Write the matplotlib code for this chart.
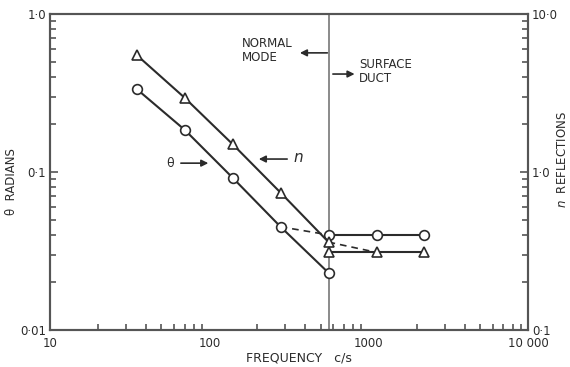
import numpy as np
import matplotlib
matplotlib.use("Agg")
import matplotlib.pyplot as plt
from matplotlib.ticker import FixedLocator, FixedFormatter, LogLocator, NullFormatter

# normal mode (below ~560 c/s)
freq_normal = [35, 70, 140, 280, 560]
theta_normal = [0.335, 0.185, 0.092, 0.045, 0.023]
n_normal = [5.5, 2.95, 1.5, 0.74, 0.36]

# surface duct (above ~560 c/s)
freq_duct = [560, 1120, 2240]
theta_duct = [0.040, 0.040, 0.040]
n_duct = [0.31, 0.31, 0.31]

boundary_freq = 560

ink = "#2b2b2b"
axis_col = "#555555"
plt.rcParams["font.family"] = ["DejaVu Sans"]
plt.rcParams["font.size"] = 8.5

fig = plt.figure(figsize=(5.70, 3.67), dpi=100)
ax = fig.add_axes([50 / 570, 1 - 330 / 367, 478 / 570, 316 / 367])
ax2 = ax.twinx()

ax.set_xscale("log")
ax.set_yscale("log")
ax2.set_yscale("log")
ax.set_xlim(10, 10000)
ax.set_ylim(0.01, 1.0)
ax2.set_ylim(0.1, 10.0)

# theta, circles
ax.plot(freq_normal, theta_normal, color=ink, lw=1.5, marker="o", ms=7,
        mfc="white", mec=ink, mew=1.2, zorder=3)
ax.plot(freq_duct, theta_duct, color=ink, lw=1.5, marker="o", ms=7,
        mfc="white", mec=ink, mew=1.2, zorder=3)
ax.plot([freq_normal[3], freq_duct[0]], [theta_normal[3], theta_duct[0]],
        color=ink, lw=1.2, ls=(0, (4, 3)), zorder=2)

# n, triangles (right axis)
ax2.plot(freq_normal, n_normal, color=ink, lw=1.5, marker="^", ms=7.5,
         mfc="white", mec=ink, mew=1.2, zorder=3)
ax2.plot(freq_duct, n_duct, color=ink, lw=1.5, marker="^", ms=7.5,
         mfc="white", mec=ink, mew=1.2, zorder=3)
ax2.plot([freq_normal[4], freq_duct[1]], [n_normal[4], n_duct[1]],
         color=ink, lw=1.2, ls=(0, (4, 3)), zorder=2)

ax.axvline(boundary_freq, color="#777777", lw=1.2, zorder=1)

ax.xaxis.set_major_locator(FixedLocator([10, 100, 1000, 10000]))
ax.xaxis.set_major_formatter(FixedFormatter(["10", "100", "1000", "10 000"]))
ax.xaxis.set_minor_locator(LogLocator(base=10, subs=np.arange(2, 10)))
ax.xaxis.set_minor_formatter(NullFormatter())

ax.yaxis.set_major_locator(FixedLocator([0.01, 0.1, 1.0]))
ax.yaxis.set_major_formatter(FixedFormatter(["0·01", "0·1", "1·0"]))
ax.yaxis.set_minor_locator(LogLocator(base=10, subs=np.arange(2, 10)))
ax.yaxis.set_minor_formatter(NullFormatter())

ax2.yaxis.set_major_locator(FixedLocator([0.1, 1.0, 10.0]))
ax2.yaxis.set_major_formatter(FixedFormatter(["0·1", "1·0", "10·0"]))
ax2.yaxis.set_minor_locator(LogLocator(base=10, subs=np.arange(2, 10)))
ax2.yaxis.set_minor_formatter(NullFormatter())

# spines / ticks (y axes in the loop, x axis only on ax)
for a in (ax, ax2):
    for s in a.spines.values():
        s.set_color(axis_col)
        s.set_linewidth(1.5)
    a.tick_params(axis="y", which="both", direction="in", color=axis_col,
                  width=1.2, labelcolor=ink, pad=3)
    a.tick_params(axis="y", which="major", length=6)
    a.tick_params(axis="y", which="minor", length=4)

ax.tick_params(axis="x", which="both", direction="in", color=axis_col,
               width=1.2, labelcolor=ink, bottom=True, top=False)
ax.tick_params(axis="x", which="minor", length=4)
ax.tick_params(axis="x", which="major", length=0, pad=5)
ax2.xaxis.set_visible(False)

# axis titles
ax.text(0.52, -0.088, "FREQUENCY   c/s", transform=ax.transAxes,
        ha="center", va="center", fontsize=9, color=ink)
ax.set_ylabel("θ  RADIANS", fontsize=8.5, color=ink)
ax.yaxis.set_label_coords(-0.066, 0.47)
ax2.set_ylabel("$n$  REFLECTIONS", fontsize=8.5, color=ink, rotation=90)
ax2.yaxis.set_label_coords(1.059, 0.538)

# annotations
arrow = dict(arrowstyle="-|>", color=ink, lw=1.2, mutation_scale=10)
ax.annotate("", xy=(0.517, 0.877), xytext=(0.586, 0.877),
            xycoords="axes fraction", arrowprops=arrow)
ax.text(0.402, 0.883, "NORMAL\nMODE", transform=ax.transAxes,
        ha="left", va="center", fontsize=8.5, color=ink, linespacing=1.1)
ax.annotate("", xy=(0.643, 0.810), xytext=(0.586, 0.810),
            xycoords="axes fraction", arrowprops=arrow)
ax.text(0.646, 0.818, "SURFACE\nDUCT", transform=ax.transAxes,
        ha="left", va="center", fontsize=8.5, color=ink, linespacing=1.1)

ax.text(0.251, 0.528, "θ", transform=ax.transAxes, ha="center",
        va="center", fontsize=9, color=ink)
ax.annotate("", xy=(0.337, 0.528), xytext=(0.268, 0.528),
            xycoords="axes fraction", arrowprops=arrow)
ax.text(0.519, 0.546, "$n$", transform=ax.transAxes, ha="center",
        va="center", fontsize=11, color=ink)
ax.annotate("", xy=(0.431, 0.541), xytext=(0.502, 0.541),
            xycoords="axes fraction", arrowprops=arrow)

fig.savefig("out.png", dpi=100)
